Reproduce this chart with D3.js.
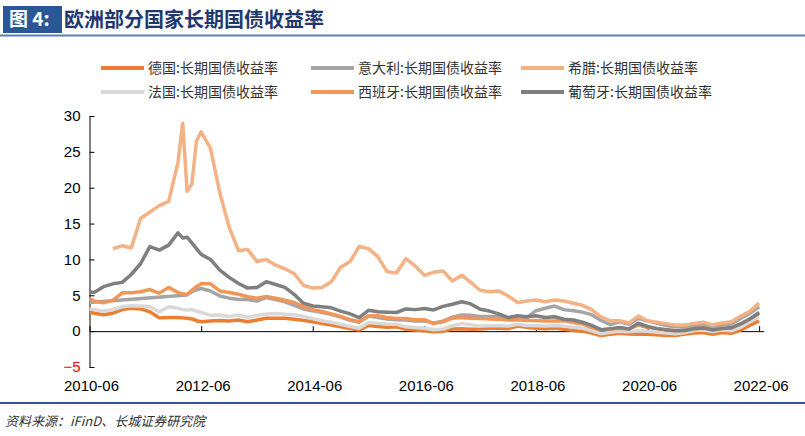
<!DOCTYPE html>
<html><head><meta charset="utf-8">
<script src="https://cdn.jsdelivr.net/npm/d3@7"></script>
<style>body{margin:0;background:#fff;} svg{display:block;}</style>
</head><body>
<svg id="chart" width="805" height="436"></svg>
<script>
const dates = [
 "2010-06","2010-07","2010-09","2010-11",
 "2011-01","2011-03","2011-05","2011-07","2011-09","2011-11",
 "2012-01","2012-02","2012-03","2012-04","2012-05","2012-06","2012-08","2012-10","2012-12",
 "2013-02","2013-04","2013-06","2013-08","2013-10","2013-12",
 "2014-02","2014-04","2014-06","2014-08","2014-10","2014-12",
 "2015-02","2015-04","2015-06","2015-08","2015-10","2015-12",
 "2016-02","2016-04","2016-06","2016-08","2016-10","2016-12",
 "2017-02","2017-04","2017-06","2017-08","2017-10","2017-12",
 "2018-02","2018-04","2018-06","2018-08","2018-10","2018-12",
 "2019-02","2019-04","2019-06","2019-08","2019-10","2019-12",
 "2020-02","2020-04","2020-06","2020-08","2020-10","2020-12",
 "2021-02","2021-04","2021-06","2021-08","2021-10","2021-12",
 "2022-02","2022-04","2022-06"
];
const germany = [
 2.7,2.5,2.3,2.5,
 3.0,3.2,3.1,2.7,1.85,1.9,
 1.9,1.85,1.8,1.7,1.45,1.3,1.4,1.5,1.4,
 1.55,1.3,1.55,1.8,1.8,1.8,
 1.65,1.5,1.3,1.05,0.85,0.6,
 0.35,0.15,0.8,0.65,0.55,0.6,
 0.25,0.15,0.05,-0.1,0.0,0.3,
 0.35,0.25,0.3,0.4,0.4,0.35,
 0.7,0.55,0.4,0.35,0.45,0.25,
 0.1,0.0,-0.25,-0.6,-0.45,-0.3,
 -0.4,-0.45,-0.45,-0.5,-0.6,-0.6,
 -0.4,-0.25,-0.2,-0.45,-0.2,-0.3,
 0.15,0.8,1.45
];
const italy = [
 4.0,null,null,null,
 null,null,null,null,null,null,
 null,null,5.05,5.5,5.75,5.95,5.6,4.9,4.6,
 4.4,4.4,4.2,4.7,4.4,4.1,
 3.6,3.1,2.85,2.6,2.35,1.95,
 1.5,1.25,2.1,1.9,1.7,1.6,
 1.55,1.4,1.4,1.15,1.4,1.95,
 2.25,2.2,2.05,2.05,2.0,1.8,
 2.0,1.8,2.85,3.2,3.5,3.0,
 2.85,2.65,2.3,1.5,0.9,1.3,
 0.95,1.8,1.4,1.1,0.8,0.6,
 0.55,0.75,0.9,0.6,0.85,1.0,
 1.8,2.5,3.4
];
const greece = [
 null,null,null,11.5,
 11.9,11.6,15.7,16.6,17.5,18.1,
 23.5,29.0,19.5,20.5,26.5,27.8,25.5,19.3,14.5,
 11.2,11.4,9.7,10.0,9.2,8.7,
 8.0,6.4,6.0,6.1,6.9,8.9,
 9.7,11.8,11.5,10.4,8.3,8.1,
 10.1,9.1,7.8,8.2,8.4,7.0,
 7.8,6.8,5.7,5.5,5.6,4.9,
 4.0,4.2,4.35,4.1,4.35,4.2,
 3.9,3.6,3.0,2.0,1.45,1.45,
 1.15,2.1,1.45,1.25,1.05,0.84,
 0.84,1.07,1.25,0.85,1.15,1.3,
 2.1,2.75,3.9
];
const france = [
 3.1,3.0,2.8,3.0,
 3.4,3.55,3.5,3.4,2.7,3.4,
 3.2,3.0,2.95,3.0,2.8,2.6,2.2,2.25,2.05,
 2.25,1.95,2.2,2.4,2.45,2.35,
 2.3,2.05,1.75,1.45,1.25,0.95,
 0.65,0.4,1.2,1.1,0.95,0.95,
 0.6,0.5,0.4,0.2,0.3,0.75,
 1.05,0.9,0.7,0.75,0.8,0.7,
 0.95,0.8,0.75,0.7,0.8,0.7,
 0.55,0.4,0.05,-0.35,-0.15,0.0,
 -0.1,0.1,0.0,-0.15,-0.25,-0.35,
 -0.2,0.1,0.15,-0.05,0.15,0.05,
 0.55,1.3,2.0
];
const spain = [
 4.55,4.2,3.95,4.3,
 5.35,5.35,5.5,5.8,5.3,6.1,
 5.4,5.2,5.1,5.7,6.2,6.6,6.6,5.6,5.4,
 5.15,4.8,4.6,4.85,4.6,4.3,
 4.0,3.4,3.0,2.75,2.4,2.05,
 1.6,1.35,2.1,2.15,1.9,1.75,
 1.75,1.6,1.6,1.05,1.3,1.8,
 1.9,1.8,1.75,1.7,1.65,1.55,
 1.6,1.5,1.5,1.4,1.4,1.45,
 1.2,1.0,0.5,0.15,0.25,0.4,
 0.3,0.85,0.5,0.35,0.2,0.05,
 0.1,0.35,0.45,0.25,0.4,0.4,
 1.05,1.7,2.45
];
const portugal = [
 5.5,5.4,6.2,6.6,
 6.8,7.9,9.4,11.8,11.3,12.0,
 13.7,13.0,13.1,12.3,11.5,10.7,10.0,8.5,7.5,
 6.65,6.0,6.1,6.9,6.5,6.1,
 5.1,3.9,3.5,3.4,3.25,2.8,
 2.4,1.9,2.9,2.7,2.65,2.6,
 3.1,3.0,3.15,2.95,3.45,3.75,
 4.1,3.8,3.05,2.8,2.4,1.9,
 2.15,2.0,2.15,1.9,2.0,1.65,
 1.55,1.25,0.8,0.2,0.35,0.5,
 0.3,1.1,0.65,0.35,0.2,0.05,
 0.1,0.35,0.45,0.15,0.35,0.5,
 1.0,1.7,2.6
];
const seriesNames = ["德国:长期国债收益率","意大利:长期国债收益率","希腊:长期国债收益率",
                     "法国:长期国债收益率","西班牙:长期国债收益率","葡萄牙:长期国债收益率"];
const seriesValues = [germany, italy, greece, france, spain, portugal];
const seriesColors = ["#ED7D31","#A5A5A5","#F4B183","#D9D9D9","#F29657","#7F7F7F"];
const yTicks = [-5,0,5,10,15,20,25,30];
const xTickLabels = ["2010-06","2012-06","2014-06","2016-06","2018-06","2020-06","2022-06"];
const titleLabel = "图 4:";
const titleText = "欧洲部分国家长期国债收益率";
const sourceText = "资料来源：iFinD、长城证券研究院";

const parse = d3.timeParse("%Y-%m");
const svg = d3.select("#chart");
const cjk = "'Noto Sans CJK SC','Noto Sans',sans-serif";
const latin = "'Liberation Sans',Arial,sans-serif";

// Title
svg.append("rect").attr("x",3).attr("y",6).attr("width",59).attr("height",27).attr("fill","#2B5797");
svg.append("text").attr("x",9).attr("y",26).text(titleLabel)
  .attr("fill","#fff").attr("font-family",cjk).attr("font-weight","bold").attr("font-size",19);
svg.append("text").attr("x",64).attr("y",27).text(titleText)
  .attr("fill","#1F3870").attr("font-family",cjk).attr("font-weight","bold").attr("font-size",20);
svg.append("line").attr("x1",0).attr("x2",805).attr("y1",35.5).attr("y2",35.5)
  .attr("stroke","#5B7FB5").attr("stroke-width",2);

// Scales
const x = d3.scaleTime().domain([parse("2010-06"), parse("2022-07")]).range([89.5, 763.7]);
const y = d3.scaleLinear().domain([-5,30]).range([367, 116]);

// Y axis
const yAxis = d3.axisLeft(y).tickValues(yTicks).tickSizeInner(-5).tickSizeOuter(0).tickPadding(9);
const gy = svg.append("g").attr("transform","translate(89.5,0)").call(yAxis);
gy.select(".domain").attr("stroke","#000");
gy.selectAll(".tick line").attr("stroke","#000");
gy.selectAll(".tick text").attr("font-family",latin).attr("font-size",15)
  .attr("fill", d => d < 0 ? "#FF0000" : "#000");

// X axis on zero line, ticks inward (up)
const xTicks = xTickLabels.map(parse);
const xAxis = d3.axisTop(x).tickValues(xTicks).tickSizeInner(5).tickSizeOuter(0).tickFormat("");
const gx = svg.append("g").attr("transform",`translate(0,${y(0)})`).call(xAxis);
gx.select(".domain").attr("stroke","#000");
gx.selectAll(".tick line").attr("stroke","#000");
svg.append("g").selectAll("text").data(xTicks).join("text")
  .attr("x", d => x(d)+2).attr("y", 391).attr("text-anchor","middle")
  .attr("font-family",latin).attr("font-size",15).attr("fill","#000")
  .text((d,i) => xTickLabels[i]);

// Lines
const line = d3.line().x(d => x(d.date)).y(d => y(d.v));
seriesValues.forEach((vals, i) => {
  const data = dates.map((s, j) => ({date: parse(s), v: vals[j]})).filter(d => d.v !== null);
  svg.append("path").datum(data).attr("d", line)
    .attr("fill","none").attr("stroke", seriesColors[i]).attr("stroke-width",3.5)
    .attr("stroke-linejoin","round");
});

// Legend
const legX = [101, 311, 521];
const legY = [68, 92];
seriesNames.forEach((name, i) => {
  const cx = legX[i % 3], cy = legY[Math.floor(i / 3)];
  svg.append("line").attr("x1",cx).attr("x2",cx+43).attr("y1",cy).attr("y2",cy)
    .attr("stroke",seriesColors[i]).attr("stroke-width",4);
  svg.append("text").attr("x",cx+47).attr("y",cy+5).text(name)
    .attr("font-family",cjk).attr("font-size",14).attr("fill","#333");
});

// Bottom rule and source
svg.append("line").attr("x1",0).attr("x2",805).attr("y1",403).attr("y2",403)
  .attr("stroke","#2F5597").attr("stroke-width",2);
svg.append("text").attr("x",5).attr("y",426).text(sourceText)
  .attr("font-family",cjk).attr("font-style","italic").attr("font-size",13).attr("fill","#333");
</script>
</body></html>
